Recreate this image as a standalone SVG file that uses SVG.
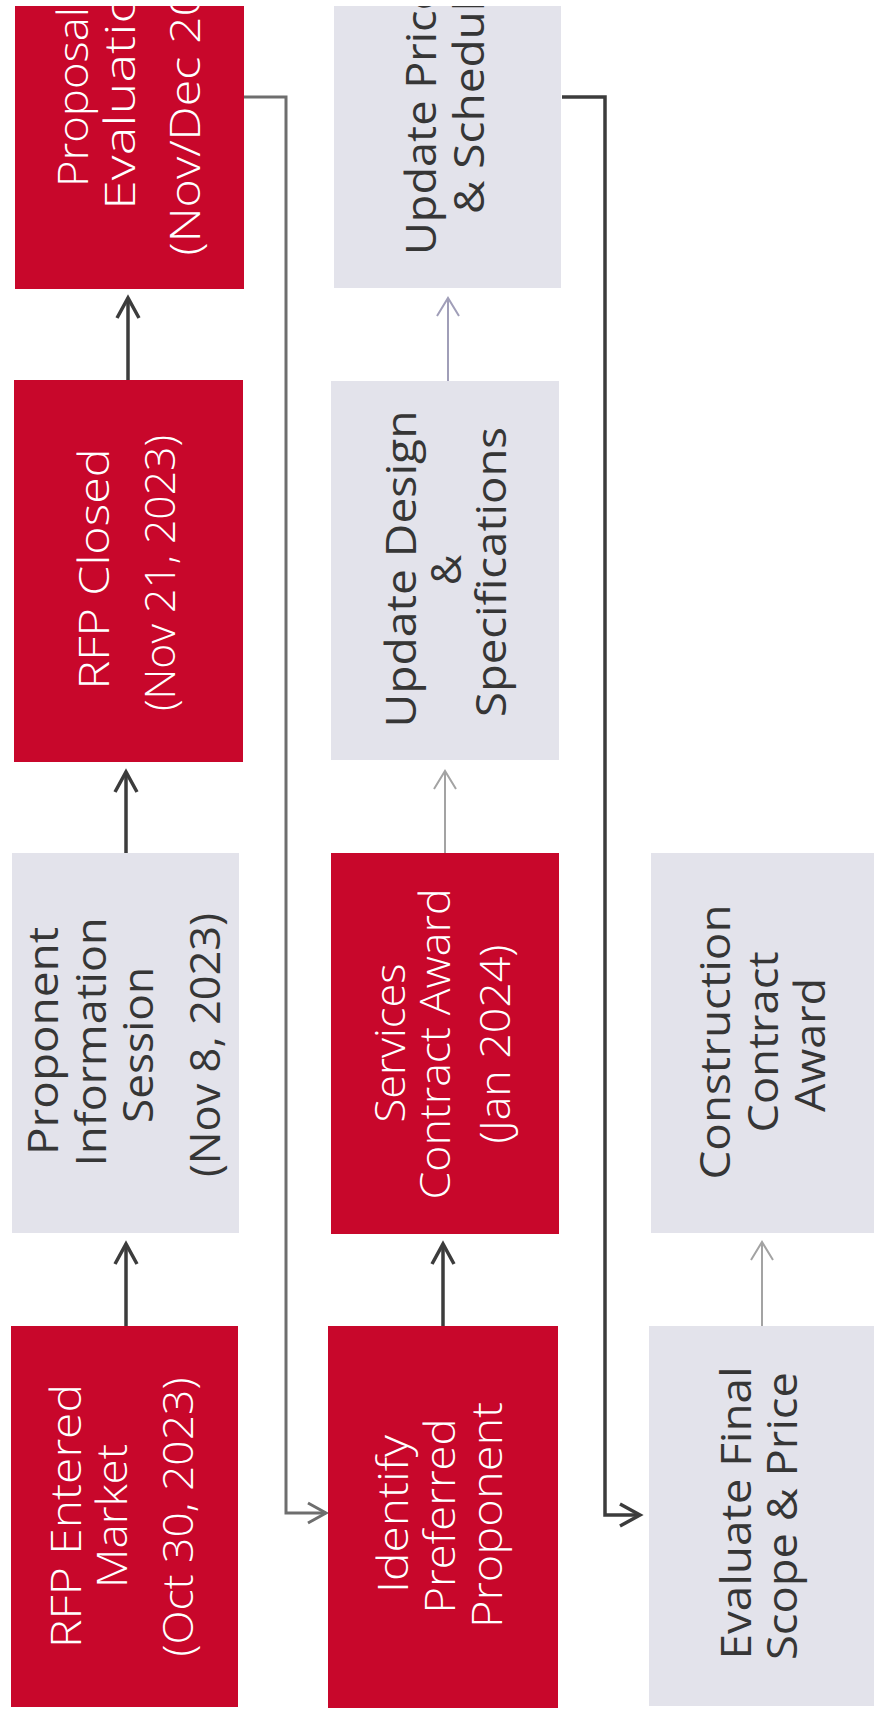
<svg xmlns="http://www.w3.org/2000/svg" width="874" height="1715" viewBox="0 0 874 1715">
<style>
  .red { fill: #C8072B; }
  .grey { fill: #E3E3EB; }
  .wt { font-family: "Open Sans", "Liberation Sans", sans-serif; font-size: 42px; font-weight: 300; fill: #FFFFFF; text-anchor: middle; }
  .dt { font-family: "Open Sans", "Liberation Sans", sans-serif; font-size: 42px; font-weight: 400; fill: #363636; text-anchor: middle; }
  .c-dark { fill: none; stroke: #3C3C3C; stroke-width: 3.5; }
  .c-mid { fill: none; stroke: #6E6E6E; stroke-width: 3; }
  .c-light { fill: none; stroke: #A3A3A3; stroke-width: 2; }
  .c-lav { fill: none; stroke: #A09EB8; stroke-width: 2; }
</style>
<defs>
  <clipPath id="topclip"><rect x="0" y="6" width="874" height="1709"/></clipPath>
  <marker id="ah-dark" markerUnits="userSpaceOnUse" viewBox="-24 -14 28 28" markerWidth="28" markerHeight="28" refX="0" refY="0" orient="auto">
    <path d="M-20,-11 L0,0 L-20,11" fill="none" stroke="#3C3C3C" stroke-width="3.5"/>
  </marker>
  <marker id="ah-mid" markerUnits="userSpaceOnUse" viewBox="-24 -14 28 28" markerWidth="28" markerHeight="28" refX="0" refY="0" orient="auto">
    <path d="M-18,-10 L0,0 L-18,10" fill="none" stroke="#6E6E6E" stroke-width="3"/>
  </marker>
  <marker id="ah-light" markerUnits="userSpaceOnUse" viewBox="-24 -14 28 28" markerWidth="28" markerHeight="28" refX="0" refY="0" orient="auto">
    <path d="M-18,-11 L0,0 L-18,11" fill="none" stroke="#A3A3A3" stroke-width="2"/>
  </marker>
  <marker id="ah-lav" markerUnits="userSpaceOnUse" viewBox="-24 -14 28 28" markerWidth="28" markerHeight="28" refX="0" refY="0" orient="auto">
    <path d="M-18,-11 L0,0 L-18,11" fill="none" stroke="#A09EB8" stroke-width="2"/>
  </marker>
</defs>
<rect x="0" y="0" width="874" height="1715" fill="#FFFFFF"/>

<g id="connectors">
  <path class="c-dark" d="M126,1326 V1244" marker-end="url(#ah-dark)"/>
  <path class="c-dark" d="M126,853 V772" marker-end="url(#ah-dark)"/>
  <path class="c-dark" d="M128,380 V298" marker-end="url(#ah-dark)"/>
  <path class="c-mid" d="M244,97 H286 V1513 H326" marker-end="url(#ah-mid)"/>
  <path class="c-dark" d="M443,1326 V1244" marker-end="url(#ah-dark)"/>
  <path class="c-light" d="M445,853 V771" marker-end="url(#ah-light)"/>
  <path class="c-lav" d="M448,381 V298" marker-end="url(#ah-lav)"/>
  <path class="c-dark" d="M562,97 H605 V1515 H640" marker-end="url(#ah-dark)"/>
  <path class="c-light" d="M762,1326 V1242" marker-end="url(#ah-light)"/>
</g>

<g id="rfp-entered-market">
  <rect class="red" x="11" y="1326" width="227" height="381"/>
  <text class="wt" transform="translate(81,1516) rotate(-90)" textLength="264" lengthAdjust="spacingAndGlyphs">RFP Entered</text>
  <text class="wt" transform="translate(127,1516) rotate(-90)" textLength="144" lengthAdjust="spacingAndGlyphs">Market</text>
  <text class="wt" transform="translate(193,1517) rotate(-90)" textLength="279" lengthAdjust="spacingAndGlyphs">(Oct 30, 2023)</text>
</g>

<g id="proponent-information-session">
  <rect class="grey" x="12" y="853" width="227" height="380"/>
  <text class="dt" transform="translate(58,1041) rotate(-90)" textLength="228" lengthAdjust="spacingAndGlyphs">Proponent</text>
  <text class="dt" transform="translate(106,1042) rotate(-90)" textLength="249" lengthAdjust="spacingAndGlyphs">Information</text>
  <text class="dt" transform="translate(153,1045) rotate(-90)" textLength="156" lengthAdjust="spacingAndGlyphs">Session</text>
  <text class="dt" transform="translate(220,1045) rotate(-90)" textLength="264" lengthAdjust="spacingAndGlyphs">(Nov 8, 2023)</text>
</g>

<g id="rfp-closed">
  <rect class="red" x="14" y="380" width="229" height="382"/>
  <text class="wt" transform="translate(109,569) rotate(-90)" textLength="241" lengthAdjust="spacingAndGlyphs">RFP Closed</text>
  <text class="wt" transform="translate(175,573) rotate(-90)" textLength="276" lengthAdjust="spacingAndGlyphs">(Nov 21, 2023)</text>
</g>

<g id="proposal-evaluation">
  <rect class="red" x="15" y="6" width="229" height="283"/>
  <g clip-path="url(#topclip)">
    <text class="wt" transform="translate(88,97) rotate(-90)" textLength="180" lengthAdjust="spacingAndGlyphs">Proposal</text>
    <text class="wt" transform="translate(135,85) rotate(-90)" textLength="250" lengthAdjust="spacingAndGlyphs">Evaluation</text>
    <text class="wt" transform="translate(200,88) rotate(-90)" textLength="335" lengthAdjust="spacingAndGlyphs">(Nov/Dec 2023)</text>
  </g>
</g>

<g id="identify-preferred-proponent">
  <rect class="red" x="328" y="1326" width="230" height="382"/>
  <text class="wt" transform="translate(408,1514) rotate(-90)" textLength="158" lengthAdjust="spacingAndGlyphs">Identify</text>
  <text class="wt" transform="translate(455,1516) rotate(-90)" textLength="195" lengthAdjust="spacingAndGlyphs">Preferred</text>
  <text class="wt" transform="translate(502,1515) rotate(-90)" textLength="226" lengthAdjust="spacingAndGlyphs">Proponent</text>
</g>

<g id="services-contract-award">
  <rect class="red" x="331" y="853" width="228" height="381"/>
  <text class="wt" transform="translate(405,1043) rotate(-90)" textLength="159" lengthAdjust="spacingAndGlyphs">Services</text>
  <text class="wt" transform="translate(450,1044) rotate(-90)" textLength="311" lengthAdjust="spacingAndGlyphs">Contract Award</text>
  <text class="wt" transform="translate(510,1044) rotate(-90)" textLength="199" lengthAdjust="spacingAndGlyphs">(Jan 2024)</text>
</g>

<g id="update-design-specifications">
  <rect class="grey" x="331" y="381" width="228" height="379"/>
  <text class="dt" transform="translate(416,569) rotate(-90)" textLength="317" lengthAdjust="spacingAndGlyphs">Update Design</text>
  <text class="dt" transform="translate(461,570) rotate(-90)">&amp;</text>
  <text class="dt" transform="translate(506,572) rotate(-90)" textLength="290" lengthAdjust="spacingAndGlyphs">Specifications</text>
</g>

<g id="update-price-schedule">
  <rect class="grey" x="334" y="6" width="227" height="282"/>
  <g clip-path="url(#topclip)">
    <text class="dt" transform="translate(436,120) rotate(-90)" textLength="270" lengthAdjust="spacingAndGlyphs">Update Price</text>
    <text class="dt" transform="translate(484,94) rotate(-90)" textLength="240" lengthAdjust="spacingAndGlyphs">&amp; Schedule</text>
  </g>
</g>

<g id="construction-contract-award">
  <rect class="grey" x="651" y="853" width="223" height="380"/>
  <text class="dt" transform="translate(730,1042) rotate(-90)" textLength="275" lengthAdjust="spacingAndGlyphs">Construction</text>
  <text class="dt" transform="translate(778,1042) rotate(-90)" textLength="181" lengthAdjust="spacingAndGlyphs">Contract</text>
  <text class="dt" transform="translate(825,1045) rotate(-90)" textLength="134" lengthAdjust="spacingAndGlyphs">Award</text>
</g>

<g id="evaluate-final-scope-price">
  <rect class="grey" x="649" y="1326" width="225" height="380"/>
  <text class="dt" transform="translate(751,1513) rotate(-90)" textLength="293" lengthAdjust="spacingAndGlyphs">Evaluate Final</text>
  <text class="dt" transform="translate(797,1516) rotate(-90)" textLength="288" lengthAdjust="spacingAndGlyphs">Scope &amp; Price</text>
</g>
</svg>
